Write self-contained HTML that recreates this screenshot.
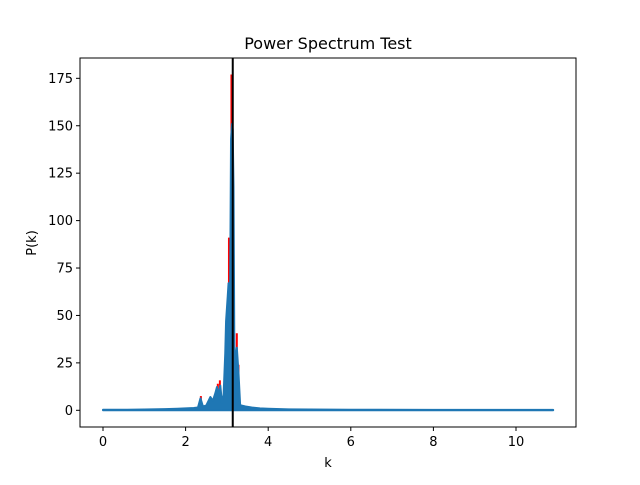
<!DOCTYPE html>
<html><head><meta charset="utf-8"><style>
body{margin:0;background:#fff;}
svg text{font-family:"DejaVu Sans","Liberation Sans",sans-serif;fill:#000;}
</style></head><body>
<svg id="chart" width="640" height="480" xmlns="http://www.w3.org/2000/svg">
<rect width="640" height="480" fill="#fff"/>
<text x="328" y="49" font-size="16" text-anchor="middle">Power Spectrum Test</text>
<g id="plot"></g>
<rect x="80" y="58" width="496" height="369" fill="none" stroke="#000" stroke-width="1"/>
<text x="328" y="467" font-size="13" text-anchor="middle">k</text>
<text transform="translate(36,243) rotate(-90)" font-size="13" text-anchor="middle">P(k)</text>
<g id="ticks"></g>
</svg>
<script>
const xTicks=[0,2,4,6,8,10];
const yTicks=[0,25,50,75,100,125,150,175];
const blueK=[0,0.5,1.0,1.5,1.8,2.0,2.2,2.3,2.36,2.42,2.5,2.6,2.66,2.72,2.76,2.8,2.84,2.88,2.92,2.96,2.98,3.02,3.04,3.08,3.10,3.125,3.14,3.16,3.18,3.2,3.24,3.28,3.32,3.36,3.45,3.6,3.8,4.0,4.5,5.0,6.0,8.0,10.9];
const blueP=[0.3,0.3,0.4,0.6,0.8,1.0,1.2,1.5,6.3,2.0,2.5,7,5,9,12.3,8,13,4,8,30,47,60,67,67,143,151,148,118,33,25,33,20,3,2.5,2,1.5,1.0,0.8,0.5,0.4,0.3,0.25,0.2];
const redK=[2.37,2.78,2.83,3.05,3.11,3.24,3.28];
const redP=[7.5,14,15.8,91,177,40.6,24];
const markerK=Math.PI;
const X=k=>103+k*41.3, Y=p=>410.3-p*1.897;
const NS='http://www.w3.org/2000/svg';
const plot=document.getElementById('plot'), ticks=document.getElementById('ticks');
function mk(tag,attrs,parent){const e=document.createElementNS(NS,tag);for(const a in attrs)e.setAttribute(a,attrs[a]);parent.appendChild(e);return e;}
redK.forEach((k,i)=>{
 const l=mk('line',{x1:X(k),x2:X(k),y1:Y(0),y2:Y(redP[i]),stroke:'#ff0000','stroke-width':2},plot);
 
 
});
let pts=blueK.map((k,i)=>X(k)+','+Y(blueP[i]));
let poly=pts.concat(blueK.slice().reverse().map(k=>X(k)+','+Y(0))).join(' ');
const area=mk('polygon',{points:poly,fill:'#1f77b4',stroke:'#1f77b4','stroke-width':2,'stroke-linejoin':'round'},plot);


const vl=mk('line',{x1:X(markerK),x2:X(markerK),y1:58,y2:427,stroke:'#000','stroke-width':2},plot);


xTicks.forEach(v=>{
 const t=mk('line',{x1:X(v),x2:X(v),y1:427,y2:431,stroke:'#000'},ticks);
 
 
 const tx=mk('text',{x:X(v),y:446,'font-size':13,'text-anchor':'middle'},ticks);
 tx.textContent=v;
 
 
});
yTicks.forEach(v=>{
 const t=mk('line',{x1:76,x2:80,y1:Y(v),y2:Y(v),stroke:'#000'},ticks);
 
 
 const tx=mk('text',{x:73,y:Y(v)+4.5,'font-size':13,'text-anchor':'end'},ticks);
 tx.textContent=v;
 
 
});
</script>
</body></html>
